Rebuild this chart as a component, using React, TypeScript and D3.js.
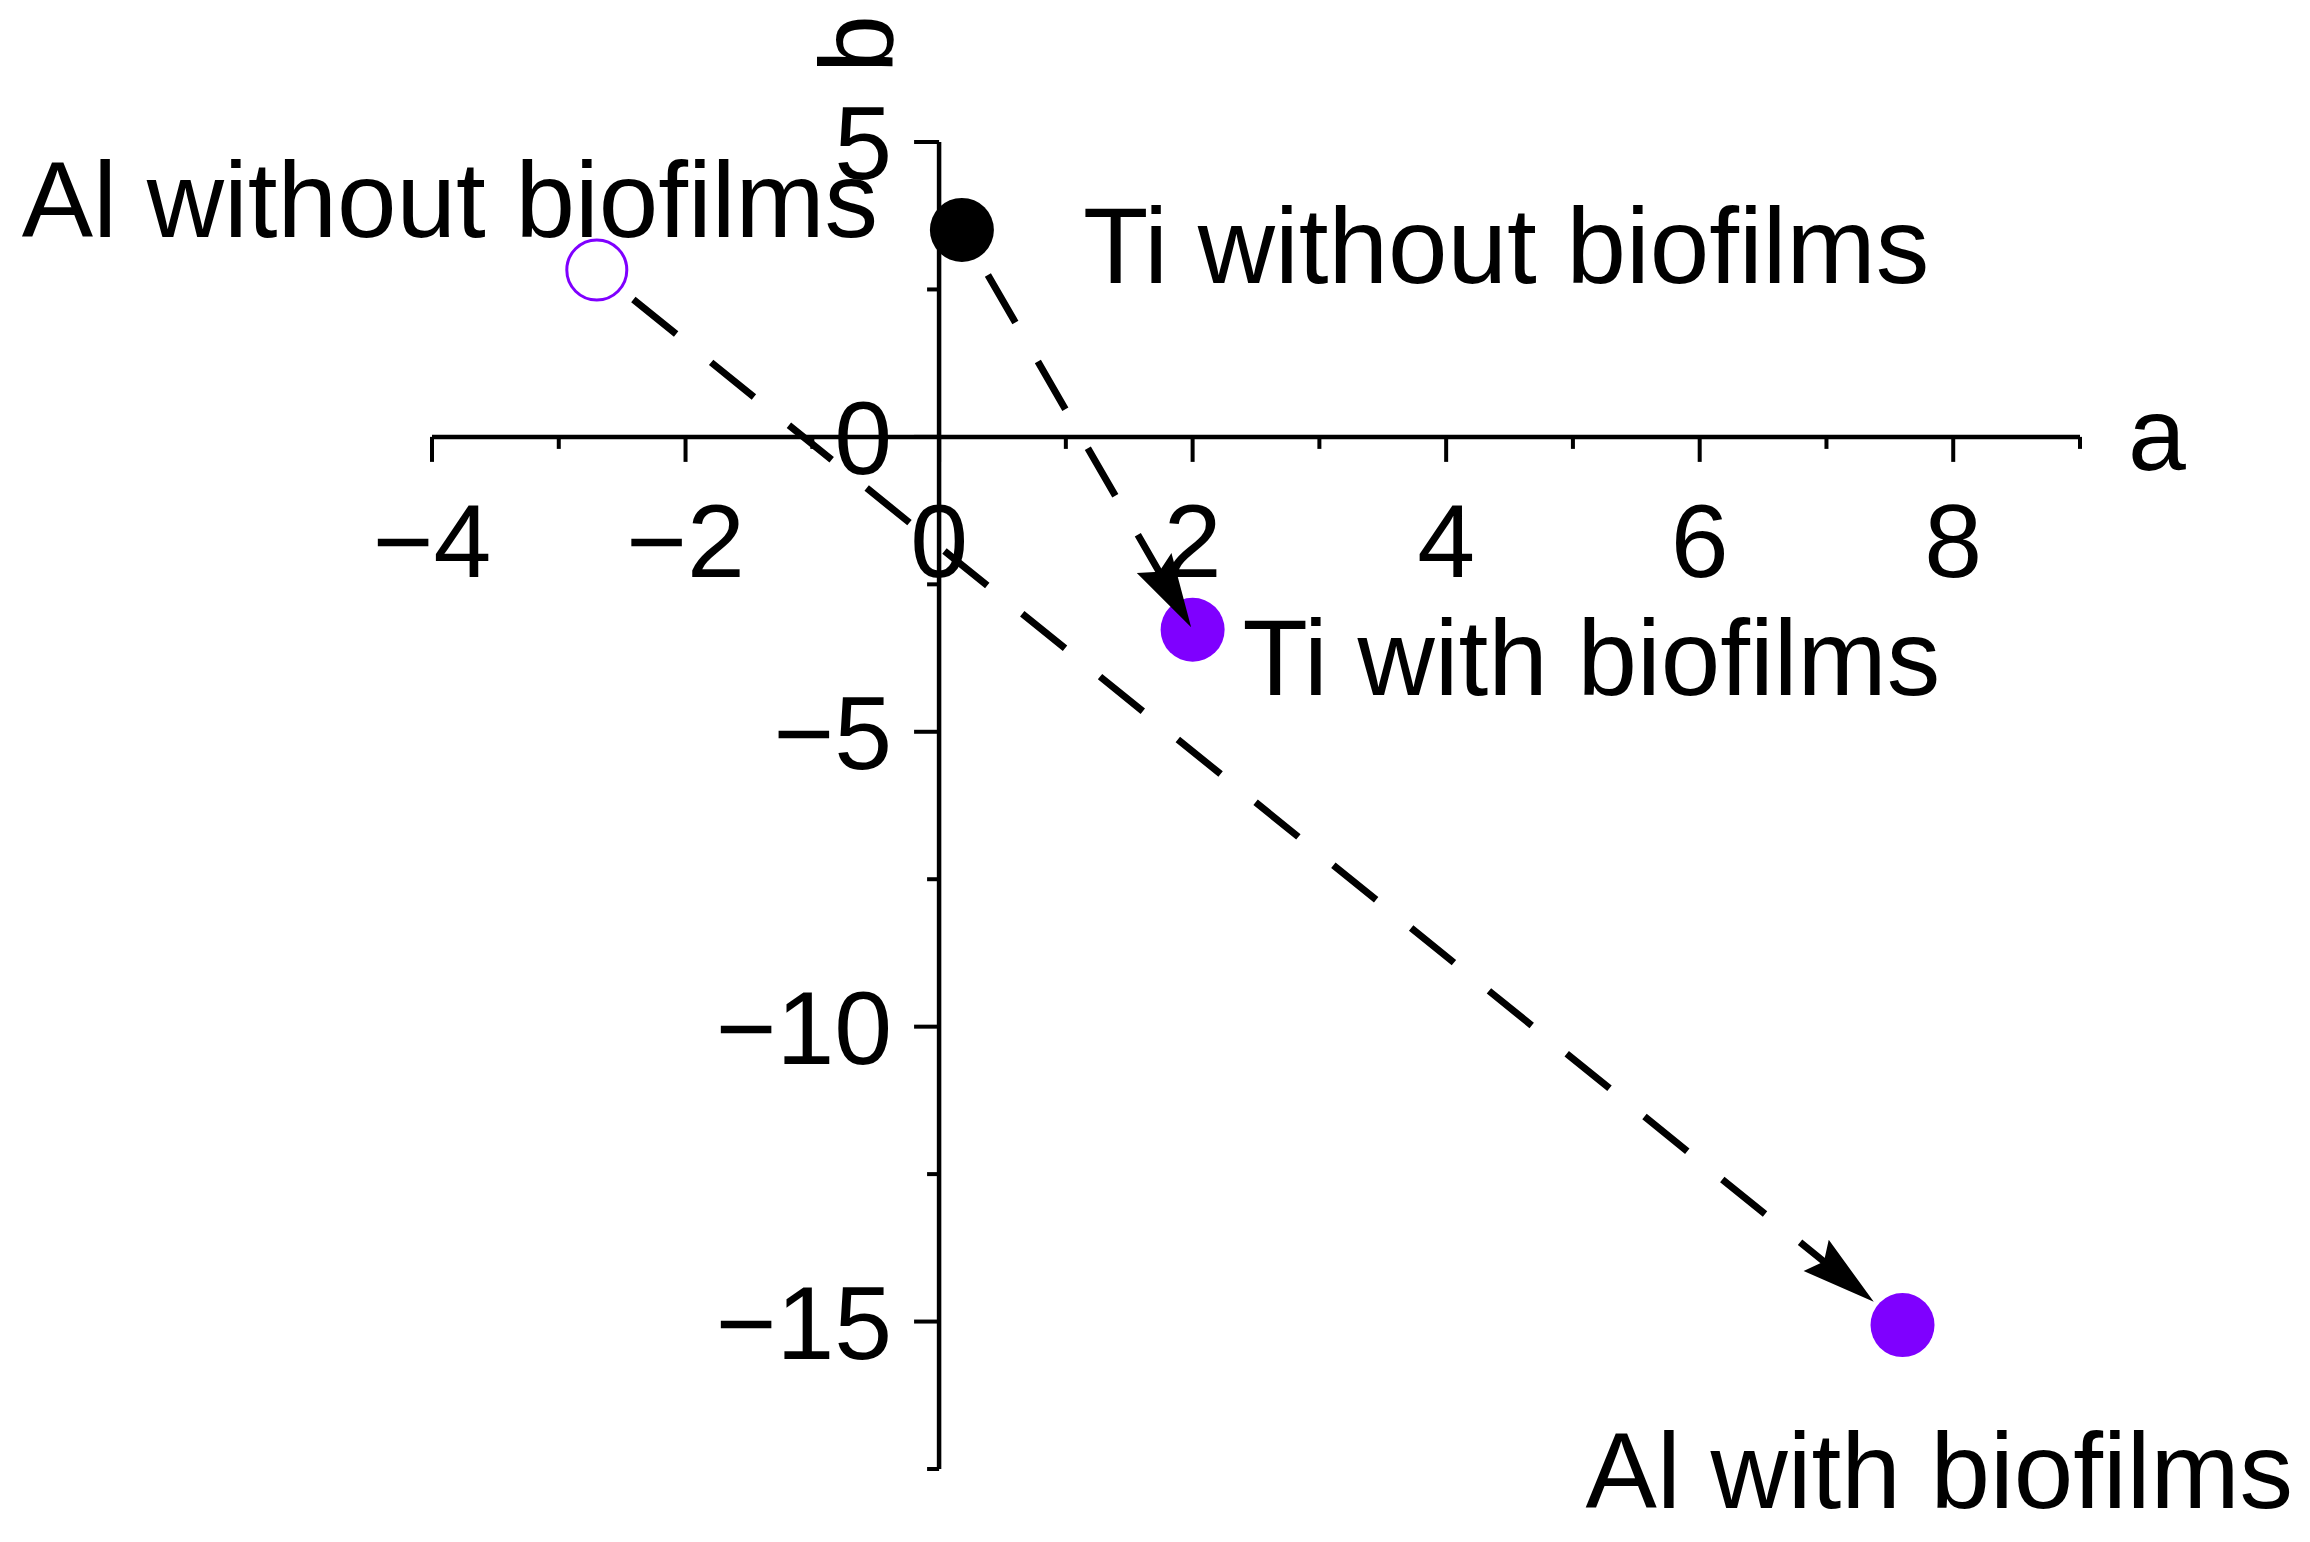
import React from "react";
import * as d3 from "d3";

// ---- data ----
const pointNames = ["Al without biofilms", "Ti without biofilms", "Ti with biofilms", "Al with biofilms"];
const aValues = [-2.7, 0.18, 2.0, 7.6];
const bValues = [2.83, 3.51, -3.27, -15.06];
const pointKinds = ["open", "black", "purple", "purple"];

// arrows: from point index -> to point index
const arrowFrom = [0, 1];
const arrowTo = [3, 2];

const xMajorTicks = [-4, -2, 0, 2, 4, 6, 8];
const xMinorTicks = [-3, -1, 1, 3, 5, 7, 9];
const yMajorTicks = [-15, -10, -5, 0, 5];
const yMinorTicks = [-17.5, -12.5, -7.5, -2.5, 2.5];
const xDomain = [-4, 9];
const yDomain = [-17.5, 5];
const xTitle = "a";
const yTitle = "b";

// ---- styles / layout (kept apart from data) ----
const W = 2310;
const H = 1542;
const PURPLE = "#7f00ff";
const labelOffsets = [
  [-575, -33],
  [121, 53],
  [50, 65],
  [-317, 183],
];
const arrowGaps = [
  [47, 37],
  [52, 3],
];
const LABEL_FS = 107;
const TICK_FS = 104;
const FONT = "'Liberation Sans', Arial, sans-serif";

function fmt(v: number) {
  return v < 0 ? "\u2212" + Math.abs(v) : String(v);
}

export default function App() {
  const x = d3.scaleLinear().domain(xDomain).range([432, 2080]);
  const y = d3.scaleLinear().domain(yDomain).range([1469, 142]);
  const x0 = x(0);
  const y0 = y(0);
  const majorLen = 25;
  const minorLen = 12;

  const pts = aValues.map((a, i) => ({ px: x(a), py: y(bValues[i]) }));

  const arrows = arrowFrom.map((fi, k) => {
    const p0 = pts[fi];
    const p1 = pts[arrowTo[k]];
    const dx = p1.px - p0.px;
    const dy = p1.py - p0.py;
    const len = Math.hypot(dx, dy);
    const ux = dx / len;
    const uy = dy / len;
    const [sg, eg] = arrowGaps[k];
    const sx = p0.px + ux * sg;
    const sy = p0.py + uy * sg;
    const tx = p1.px - ux * eg;
    const ty = p1.py - uy * eg;
    const headLen = 74;
    const hw = 20;
    const bx = tx - ux * headLen;
    const by = ty - uy * headLen;
    const nx = -uy;
    const ny = ux;
    const head = [
      [tx, ty],
      [bx + nx * hw, by + ny * hw],
      [bx + ux * 10, by + uy * 10],
      [bx - nx * hw, by - ny * hw],
    ];
    return { sx, sy, bx: bx + ux * 12, by: by + uy * 12, head };
  });

  return (
    <svg
      width={W}
      height={H}
      style={{ position: "absolute", left: 0, top: 0, display: "block", background: "#fff" }}
      fontFamily={FONT}
    >
      <rect x={0} y={0} width={W} height={H} fill="#fff" />
      {/* x axis */}
      <line x1={x(xDomain[0])} x2={x(xDomain[1])} y1={y0} y2={y0} stroke="#000" strokeWidth={4.5} />
      {xMajorTicks.map((t) => (
        <line key={"xM" + t} x1={x(t)} x2={x(t)} y1={y0} y2={y0 + majorLen} stroke="#000" strokeWidth={4} />
      ))}
      {xMinorTicks.map((t) => (
        <line key={"xm" + t} x1={x(t)} x2={x(t)} y1={y0} y2={y0 + minorLen} stroke="#000" strokeWidth={4} />
      ))}
      {xMajorTicks.map((t) => (
        <text key={"xl" + t} x={x(t)} y={y0 + 140} fontSize={TICK_FS} textAnchor="middle" fill="#000">
          {fmt(t)}
        </text>
      ))}
      <text x={2128} y={470} fontSize={TICK_FS} fill="#000">
        {xTitle}
      </text>

      {/* y axis */}
      <line x1={x0} x2={x0} y1={y(yDomain[0])} y2={y(yDomain[1])} stroke="#000" strokeWidth={4.5} />
      {yMajorTicks.map((t) => (
        <line key={"yM" + t} x1={x0 - majorLen} x2={x0} y1={y(t)} y2={y(t)} stroke="#000" strokeWidth={4} />
      ))}
      {yMinorTicks.map((t) => (
        <line key={"ym" + t} x1={x0 - minorLen} x2={x0} y1={y(t)} y2={y(t)} stroke="#000" strokeWidth={4} />
      ))}
      {yMajorTicks.map((t) => (
        <text
          key={"yl" + t}
          x={x0 - majorLen - 22}
          y={y(t) + TICK_FS * 0.358}
          fontSize={TICK_FS}
          textAnchor="end"
          fill="#000"
        >
          {fmt(t)}
        </text>
      ))}
      <text transform={`translate(892,44) rotate(-90)`} fontSize={TICK_FS} textAnchor="middle" fill="#000">
        {yTitle}
      </text>

      {/* points */}
      {pts.map((p, i) => {
        const kind = pointKinds[i];
        if (kind === "open")
          return <circle key={"p" + i} cx={p.px} cy={p.py} r={30} fill="#fff" stroke={PURPLE} strokeWidth={3} />;
        return <circle key={"p" + i} cx={p.px} cy={p.py} r={32} fill={kind === "black" ? "#000" : PURPLE} />;
      })}

      {/* arrows */}
      {arrows.map((a, k) => (
        <g key={"a" + k}>
          <line x1={a.sx} y1={a.sy} x2={a.bx} y2={a.by} stroke="#000" strokeWidth={7} strokeDasharray="55 45" />
          <polygon points={a.head.map((q) => q.join(",")).join(" ")} fill="#000" />
        </g>
      ))}

      {/* labels */}
      {pts.map((p, i) => (
        <text
          key={"lab" + i}
          x={p.px + labelOffsets[i][0]}
          y={p.py + labelOffsets[i][1]}
          fontSize={LABEL_FS}
          fill="#000"
        >
          {pointNames[i]}
        </text>
      ))}
    </svg>
  );
}
